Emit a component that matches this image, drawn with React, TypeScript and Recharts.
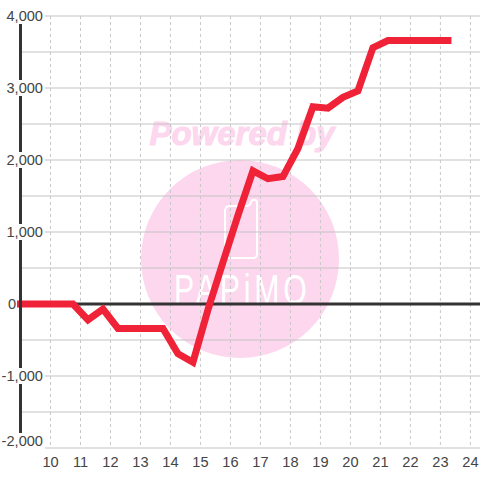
import { ComposedChart, Line, XAxis, YAxis, CartesianGrid, ReferenceLine } from 'recharts';

const hours = [9, 10.75, 11.25, 11.75, 12.25, 12.75, 13.25, 13.75, 14.25, 14.75, 15.25, 15.75, 16.25, 16.75, 17.25, 17.75, 18.25, 18.75, 19.25, 19.75, 20.25, 20.75, 21.25, 21.75, 22.25, 22.75, 23.25];
const profit = [0, 0, -220, -70, -340, -340, -340, -340, -690, -810, -80, 580, 1230, 1850, 1740, 1770, 2160, 2740, 2720, 2870, 2960, 3560, 3660, 3660, 3660, 3660, 3660];
const xTicks = [10, 11, 12, 13, 14, 15, 16, 17, 18, 19, 20, 21, 22, 23, 24];
const yTicks = [-2000, -1500, -1000, -500, 0, 500, 1000, 1500, 2000, 2500, 3000, 3500, 4000];

const data = hours.map((hour, i) => ({ hour, profit: profit[i] }));

// only every 1000 gets a label, the white box cuts the axis line behind it
const YTick = ({ y, payload }: any) => {
  const value = payload.value;
  if (value % 1000 !== 0) return null;
  const cy = value === -2000 ? y - 7 : y; // bottom label sits above its gridline
  const right = value === 0 ? 16 : 43;
  return (
    <g>
      {value !== 0 && <rect x={0} y={cy - 6} width={45} height={14} fill="#fff" />}
      <rect x={0} y={cy - 8} width={right + 1} height={16} fill="#fff" />
      <text x={right} y={cy + 5} textAnchor="end" fontSize={14.6} fill="#444">
        {value.toLocaleString('en-US')}
      </text>
    </g>
  );
};

function Watermark() {
  return (
    <svg width={480} height={480} style={{ position: 'absolute', left: 0, top: 0 }}>
      <circle cx={240} cy={259} r={99} fill="#fcd7ee" />
      <text x={242} y={145} textAnchor="middle" fontSize={33} fontWeight="bold" fontStyle="italic" fill="#fcd7ee" stroke="#fcd7ee" strokeWidth={1}>
        Powered by
      </text>
      <path
        d="M230 206 H247 Q250 206 251 202 Q252 199 255 200 Q257 200 257 203 V254 Q257 258 253 258 H229 Q225 258 225 254 V211 Q225 206 230 206 Z"
        fill="none"
        stroke="#fff"
        strokeWidth={2}
      />
      <text
        transform="translate(174 304) scale(0.72 1)"
        fontSize={42}
        letterSpacing={5.3}
        fontFamily='"Liberation Sans"'
        fill="#fff"
      >
        PAPiMO
      </text>
    </svg>
  );
}

export default function App() {
  return (
    <div style={{ position: 'relative', width: 480, height: 480, fontFamily: '"Liberation Sans", Arial, sans-serif' }}>
      <style>{'body { margin: 0; }'}</style>
      <Watermark />
      <div style={{ position: 'absolute', left: 0, top: 0, width: 480, height: 480 }}>
        <ComposedChart width={480} height={480} data={data} margin={{ top: 16, right: 0, bottom: 0, left: 0 }}>
          <CartesianGrid horizontalValues={yTicks} vertical={false} stroke="#c4c4c4" strokeWidth={1.2} />
          <CartesianGrid horizontal={false} verticalValues={xTicks} stroke="#c8c8c8" strokeDasharray="3 3" />
          <XAxis
            dataKey="hour"
            type="number"
            domain={[9, 24.32]}
            ticks={xTicks}
            axisLine={false}
            tickLine={false}
            interval={0}
            height={32}
            tick={{ fontSize: 14.6, fill: '#444' }}
            tickMargin={3}
          />
          <YAxis
            type="number"
            domain={[-2000, 4000]}
            ticks={yTicks}
            interval={0}
            width={20.5}
            axisLine={{ stroke: '#333', strokeWidth: 3 }}
            tickLine={false}
            tick={<YTick />}
          />
          <ReferenceLine y={0} stroke="#333" strokeWidth={3} />
          <Line
            dataKey="profit"
            stroke="#f02238"
            strokeWidth={7}
            strokeLinecap="square"
            dot={false}
            activeDot={false}
            isAnimationActive={false}
          />
        </ComposedChart>
      </div>
    </div>
  );
}
